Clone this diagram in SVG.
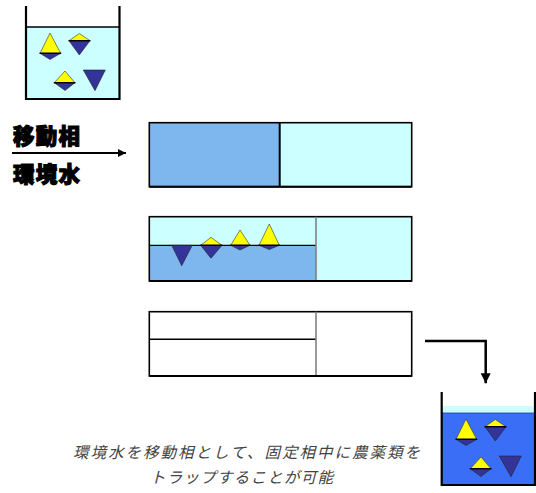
<svg xmlns="http://www.w3.org/2000/svg" width="536" height="493" viewBox="0 0 536 493">
  <style>
    .wall { fill: none; stroke: #000; stroke-width: 2.2; }
    .frame { fill: none; stroke: #000; stroke-width: 1.6; }
    .yel { fill: #FFFF00; stroke: #333; stroke-width: 0.6; }
    .navy { fill: #333399; stroke: #222; stroke-width: 0.6; }
    .seam { stroke: #000; stroke-width: 1.4; }
    .cyan { fill: #CCFFFF; }
    .mid { fill: #7EB6EE; }
    .deep { fill: #3A6EF6; }
    .label { font-family: "Noto Sans CJK JP", "Noto Sans CJK SC", sans-serif; font-weight: 900; font-size: 21.5px; fill: #000; stroke: #000; stroke-width: 1.1; letter-spacing: 1.2px; }
    .caption { font-family: "Noto Sans CJK JP", "Noto Sans CJK SC", sans-serif; font-style: italic; font-size: 15.5px; fill: #444; }
    .conn { fill: none; stroke: #000; }
  </style>
  <defs>
    <marker id="headSmall" markerUnits="userSpaceOnUse" markerWidth="9" markerHeight="9" refX="8" refY="4" orient="auto">
      <path d="M0,0 L8,4 L0,8 Z" fill="#000"/>
    </marker>
    <marker id="headBig" markerUnits="userSpaceOnUse" markerWidth="12" markerHeight="12" refX="10" refY="5" orient="auto">
      <path d="M0,0 L10,5 L0,10 Z" fill="#000"/>
    </marker>
    <!-- four pesticide particles, drawn at beaker-local coordinates -->
    <g id="particles">
      <polygon class="yel" points="50,33 40,53.3 60.7,53.3"/>
      <polygon class="navy" points="40,53.3 60.7,53.3 50,59.5"/>
      <line class="seam" x1="39.5" y1="53.3" x2="61.2" y2="53.3"/>
      <polygon class="yel" points="79.3,33.5 69,40.7 90,40.7"/>
      <polygon class="navy" points="69,40.7 90,40.7 79.3,55"/>
      <line class="seam" x1="68.5" y1="40.7" x2="90.5" y2="40.7"/>
      <polygon class="yel" points="65,71 54.3,82.7 75,82.7"/>
      <polygon class="navy" points="54.3,82.7 75,82.7 65,90.5"/>
      <line class="seam" x1="53.8" y1="82.7" x2="75.5" y2="82.7"/>
      <polygon class="navy" points="83.3,70 105.3,70 95,90.7"/>
    </g>
  </defs>

  <!-- sample beaker: environmental water -->
  <g id="beaker-top">
    <rect class="cyan" x="26" y="27" width="93.5" height="72"/>
    <use href="#particles"/>
    <polyline class="wall" points="26,6 26,99 119.5,99 119.5,6"/>
    <line x1="26" y1="27" x2="119.5" y2="27" stroke="#000" stroke-width="1.6"/>
  </g>

  <g id="label-mobile">
    <text class="label" x="13" y="143.5">移動相</text>
  </g>
  <g id="label-water">
    <text class="label" x="13" y="181.5">環境水</text>
  </g>

  <!-- column, step 1: mobile phase loaded -->
  <g id="column-1">
    <rect class="mid" x="149.3" y="122.7" width="130.4" height="64"/>
    <rect class="cyan" x="279.7" y="122.7" width="132" height="64"/>
    <rect class="frame" x="149.3" y="122.7" width="262.4" height="64"/>
    <line x1="279.7" y1="122.7" x2="279.7" y2="186.7" stroke="#000" stroke-width="2"/>
    <line x1="149.3" y1="186.7" x2="411.7" y2="186.7" stroke="#000" stroke-width="2"/>
  </g>

  <!-- column, step 2: pesticides held at the interface -->
  <g id="column-2">
    <rect class="cyan" x="149.3" y="216.7" width="262.4" height="64.3"/>
    <rect class="mid" x="149.3" y="245.3" width="166.7" height="35.7"/>
    <line x1="149.3" y1="245.3" x2="316" y2="245.3" stroke="#000" stroke-width="1.2"/>
    <polygon class="navy" points="171.7,245.3 192.3,245.3 181.7,265.7"/>
    <polygon class="yel" points="211,237.3 200.7,245.3 222,245.3"/>
    <polygon class="navy" points="200.7,245.3 222,245.3 211,258.3"/>
    <line class="seam" x1="200.2" y1="245.3" x2="222.5" y2="245.3"/>
    <polygon class="yel" points="240,230 230.7,245.3 250,245.3"/>
    <polygon class="navy" points="230.7,245.3 250,245.3 240,250"/>
    <line class="seam" x1="230.2" y1="245.3" x2="250.5" y2="245.3"/>
    <polygon class="yel" points="269.3,224 259,245.3 279.3,245.3"/>
    <polygon class="navy" points="259,245.3 279.3,245.3 269.3,249.5"/>
    <line class="seam" x1="258.5" y1="245.3" x2="279.8" y2="245.3"/>
    <rect class="frame" x="149.3" y="216.7" width="262.4" height="64.3"/>
    <line x1="316" y1="216.7" x2="316" y2="281" stroke="#808080" stroke-width="1.6"/>
    <line x1="149.3" y1="281" x2="411.7" y2="281" stroke="#000" stroke-width="2"/>
  </g>

  <!-- column, step 3: elution -->
  <g id="column-3">
    <rect x="149.3" y="311.7" width="262.4" height="64.3" fill="#fff"/>
    <rect class="frame" x="149.3" y="311.7" width="262.4" height="64.3"/>
    <line x1="149.3" y1="339.3" x2="316" y2="339.3" stroke="#000" stroke-width="1.4"/>
    <line x1="316" y1="311.7" x2="316" y2="376" stroke="#808080" stroke-width="1.6"/>
    <line x1="149.3" y1="376" x2="411.7" y2="376" stroke="#000" stroke-width="2.2"/>
  </g>

  <!-- collected beaker -->
  <g id="beaker-bottom">
    <rect class="cyan" x="441.7" y="406" width="93.3" height="7"/>
    <rect class="deep" x="441.7" y="413" width="93.3" height="72"/>
    <line x1="441.7" y1="413" x2="535" y2="413" stroke="#1c3c9c" stroke-width="0.8"/>
    <use href="#particles" transform="translate(416,386)"/>
    <polyline class="wall" points="441.7,392 441.7,485 535,485 535,392"/>
  </g>

  <g id="connectors">
    <line class="conn" x1="12" y1="153" x2="126" y2="153" stroke-width="2.2" marker-end="url(#headSmall)"/>
    <polyline class="conn" points="425,341 485.7,341 485.7,383.3" stroke-width="2.5" marker-end="url(#headBig)"/>
  </g>

  <g id="caption">
    <text class="caption" x="73" y="458" textLength="347" lengthAdjust="spacing">環境水を移動相として、固定相中に農薬類を</text>
    <text class="caption" x="150" y="483" textLength="183" lengthAdjust="spacing">トラップすることが可能</text>
  </g>
</svg>
